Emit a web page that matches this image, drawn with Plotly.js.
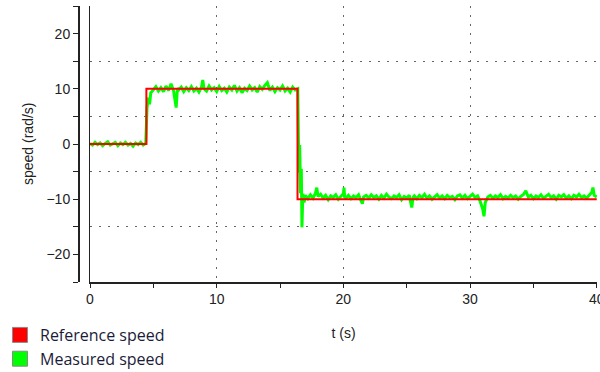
<!DOCTYPE html>
<html>
<head>
<meta charset="utf-8">
<script src="https://cdn.plot.ly/plotly-3.0.1.min.js"></script>
<style>html,body{margin:0;padding:0;background:#fff;}#chart{width:600px;height:372px;}</style>
</head>
<body>
<div id="chart"></div>
<script>
// Reference speed (step profile)
const refT = [0, 4.45, 16.38, 40];
const refV = [0, 10, -10, -10];

const measT = [
  0.0,0.2,0.4,0.6,0.8,1.0,1.2,1.4,1.6,1.8,2.0,2.2,2.4,2.6,2.8,3.0,3.2,3.4,3.6,3.8,4.0,4.2,4.4,
  4.5,4.6,4.7,4.8,5.0,5.2,5.4,5.6,5.8,6.0,6.2,6.4,6.6,6.8,6.9,7.0,7.2,7.4,7.6,7.8,8.0,8.2,8.4,8.6,8.8,8.9,
  9.0,9.2,9.4,9.6,9.8,10.0,10.2,10.4,10.6,10.8,11.0,11.2,11.4,11.6,11.8,12.0,12.2,12.4,12.6,12.8,
  13.0,13.2,13.4,13.6,13.8,14.0,14.2,14.4,14.6,14.8,15.0,15.2,15.4,15.6,15.8,16.0,16.2,16.4,
  16.45,16.5,16.55,16.62,16.68,16.73,16.8,16.9,
  17.0,17.2,17.4,17.6,17.8,17.9,18.0,18.2,18.4,18.6,18.8,19.0,19.2,19.4,19.6,19.8,20.0,20.05,20.1,
  20.2,20.4,20.6,20.8,21.0,21.2,21.4,21.5,21.6,21.8,22.0,22.2,22.4,22.6,22.8,23.0,23.2,23.4,23.6,23.8,
  24.0,24.2,24.4,24.6,24.8,25.0,25.2,25.4,25.5,25.6,25.8,26.0,26.2,26.4,26.6,26.8,27.0,27.2,27.4,27.6,27.8,
  28.0,28.2,28.4,28.6,28.8,29.0,29.2,29.4,29.6,29.8,30.0,30.2,30.4,30.6,30.8,31.0,31.1,31.2,31.4,31.6,31.8,
  32.0,32.2,32.4,32.6,32.8,33.0,33.2,33.4,33.6,33.8,34.0,34.2,34.4,34.6,34.8,35.0,35.2,35.4,35.6,35.8,
  36.0,36.2,36.4,36.6,36.8,37.0,37.2,37.4,37.6,37.8,38.0,38.2,38.4,38.6,38.8,39.0,39.2,39.4,39.6,39.7,39.8,40.0
];
const measV = [
  0.1,-0.2,0.3,-0.1,0.2,-0.3,0.1,0.4,-0.2,0.0,0.3,-0.3,0.2,-0.1,0.3,-0.2,0.1,-0.4,0.2,-0.1,0.3,-0.2,0.1,
  6.5,8.4,7.2,9.3,9.8,10.4,9.6,10.2,9.5,10.5,9.7,10.9,9.6,6.6,10.1,9.8,10.3,9.5,10.2,9.7,10.4,9.6,10.1,9.4,10.3,11.6,
  10.0,9.6,10.5,9.8,10.2,9.5,10.4,9.7,10.1,9.4,10.3,9.8,10.6,9.6,10.2,9.3,10.1,9.7,10.5,9.8,
  10.2,9.4,10.4,9.9,10.6,11.1,9.7,10.3,9.5,10.2,9.8,10.5,9.6,10.1,9.4,10.3,9.8,10.0,
  1.1,-5.2,-0.2,-8.9,-4.5,-15.1,-9.0,-10.6,
  -9.3,-9.9,-9.2,-9.8,-8.9,-7.9,-9.5,-9.1,-9.8,-9.3,-10.1,-9.4,-9.7,-9.2,-10.0,-9.5,-9.0,-7.9,-9.6,
  -9.8,-9.3,-9.9,-9.4,-9.7,-9.2,-10.3,-10.8,-9.6,-9.3,-9.8,-9.2,-9.7,-9.4,-10.0,-9.3,-9.8,-9.1,-9.6,-9.9,
  -9.4,-9.7,-9.2,-10.1,-9.5,-9.8,-9.3,-11.5,-9.7,-9.4,-9.9,-9.3,-9.7,-9.1,-9.8,-9.4,-10.0,-9.5,-9.2,-9.8,-9.4,
  -9.9,-9.3,-9.7,-9.5,-10.1,-9.4,-9.2,-9.8,-9.3,-9.9,-9.5,-9.1,-9.7,-9.4,-10.4,-11.8,-13.1,-10.6,-9.6,-9.3,-9.8,
  -9.4,-9.7,-9.2,-9.9,-9.5,-9.8,-9.3,-9.7,-9.4,-10.0,-9.5,-9.2,-8.5,-9.6,-9.3,-9.9,-9.4,-9.7,-9.2,-9.8,
  -9.5,-9.1,-9.7,-9.4,-10.0,-9.3,-9.6,-9.2,-9.8,-9.4,-9.9,-9.3,-9.6,-9.1,-9.7,-9.4,-9.8,-9.2,-8.8,-7.9,-9.3,-9.6
];

const seriesNames = ['Reference speed', 'Measured speed'];
const xTitle = 't (s)';
const yTitle = 'speed (rad/s)';

const tickFont = {family: '"Liberation Sans", Arial, sans-serif', size: 14, color: '#222'};

const traces = [
  {x: measT, y: measV, type: 'scatter', mode: 'lines', line: {color: '#00ff00', width: 3},
   showlegend: false, hoverinfo: 'skip'},
  {x: refT, y: refV, type: 'scatter', mode: 'lines', line: {color: '#ff0000', width: 2, shape: 'hv'},
   showlegend: false, hoverinfo: 'skip'},
  {x: [null], y: [null], yaxis: 'y2', type: 'scatter', mode: 'markers', name: seriesNames[0],
   marker: {symbol: 'square', size: 15, color: '#ff0000', line: {color: '#8a8a8a', width: 1}}},
  {x: [null], y: [null], yaxis: 'y2', type: 'scatter', mode: 'markers', name: seriesNames[1],
   marker: {symbol: 'square', size: 15, color: '#00ff00', line: {color: '#8a8a8a', width: 1}}}
];

const gridDash = '2px,7px';
const layout = {
  width: 600, height: 372,
  margin: {l: 78, r: 3, t: 6, b: 90, pad: 0, autoexpand: false},
  paper_bgcolor: '#fff', plot_bgcolor: '#fff',
  xaxis: {
    domain: [12/519, 1], range: [0, 40.02], dtick: 10, tick0: 0, automargin: false,
    showgrid: true, gridcolor: '#666', griddash: gridDash, gridwidth: 1,
    zeroline: false, showline: true, linecolor: '#222', linewidth: 1.5,
    ticks: 'outside', ticklen: 4, tickcolor: '#222', ticklabeloverflow: 'allow',
    minor: {dtick: 5, ticks: 'outside', ticklen: 4, tickcolor: '#222', showgrid: false},
    tickfont: tickFont,
    title: {text: xTitle, font: tickFont, standoff: 22}
  },
  // grid axis: solid line at t = 0, dotted horizontal grid
  yaxis: {
    anchor: 'x', range: [-25, 25], tick0: -25, dtick: 10, automargin: false,
    showgrid: true, gridcolor: '#666', griddash: gridDash, gridwidth: 1,
    zeroline: false, showline: true, linecolor: '#222', linewidth: 1.5,
    showticklabels: false, ticks: ''
  },
  // labelled axis, detached to the left
  yaxis2: {
    overlaying: 'y', anchor: 'free', position: 0, side: 'left', range: [-25, 25], dtick: 10, tick0: 0,
    automargin: false, showgrid: false, zeroline: false, showline: true, linecolor: '#222', linewidth: 1.5,
    ticks: 'outside', ticklen: 5, tickcolor: '#222',
    minor: {dtick: 5, ticks: 'outside', ticklen: 5, tickcolor: '#222', showgrid: false},
    tickfont: tickFont
  },
  annotations: [{
    text: yTitle, xref: 'paper', yref: 'paper', x: -50/519, y: 0.5,
    xanchor: 'center', yanchor: 'middle', textangle: -90, showarrow: false, font: tickFont
  }],
  showlegend: true,
  legend: {
    xref: 'container', yref: 'container', x: 0, y: 1 - 318/372, xanchor: 'left', yanchor: 'top',
    font: {family: '"Open Sans", "Noto Sans", sans-serif', size: 16, color: '#1b1b3a'},
    bgcolor: 'rgba(0,0,0,0)', borderwidth: 0, tracegroupgap: 0, itemwidth: 30
  }
};

Plotly.newPlot('chart', traces, layout, {displayModeBar: false, staticPlot: true});
</script>
</body>
</html>
